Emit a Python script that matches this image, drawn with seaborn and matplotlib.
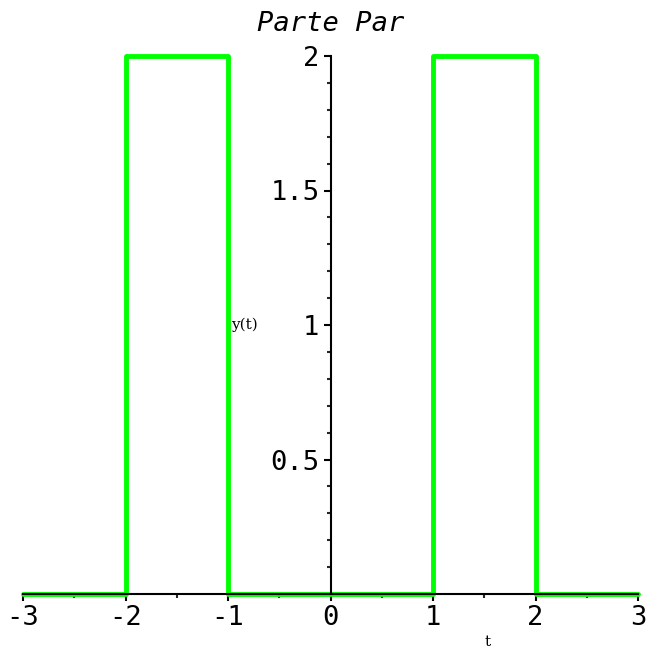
import numpy as np
import pandas as pd
import matplotlib
matplotlib.use("Agg")
import matplotlib.pyplot as plt
from matplotlib.ticker import MultipleLocator
import seaborn as sns

# step breakpoints of the even part
t_points = [-3, -2, -1, 1, 2, 3]
y_values = [0, 2, 0, 2, 0, 0]
x_ticks = [-3, -2, -1, 0, 1, 2, 3]
y_ticks = [0.5, 1, 1.5, 2]

sns.set_style("white")
plt.rcParams['font.family'] = ['DejaVu Sans Mono', 'DejaVu Sans']
plt.rcParams['axes.unicode_minus'] = False
plt.rcParams['text.color'] = 'black'

df = pd.DataFrame({'t': t_points, 'y': y_values})

fig = plt.figure(figsize=(6.47, 6.5), dpi=100)
ax = fig.add_axes([23 / 647, 56 / 650, 615 / 647, 538 / 650])

sns.lineplot(data=df, x='t', y='y', drawstyle='steps-post', color='#00ff00',
             linewidth=3.5, ax=ax, clip_on=False, zorder=2)

ax.set_xlim(-3, 3)
ax.set_ylim(0, 2)

# maple-like axes crossing at the origin
for s in ['top', 'right']:
    ax.spines[s].set_visible(False)
ax.spines['left'].set_position(('data', 0))
ax.spines['bottom'].set_position(('data', 0))
for s in ['left', 'bottom']:
    ax.spines[s].set_linewidth(1.5)
    ax.spines[s].set_color('black')
    ax.spines[s].set_zorder(3)

ax.set_xticks(x_ticks)
ax.set_yticks(y_ticks)
ax.set_yticklabels(['0.5', '1', '1.5', '2'])
ax.xaxis.set_minor_locator(MultipleLocator(0.5))
ax.yaxis.set_minor_locator(MultipleLocator(0.1))
ax.tick_params(which='major', direction='out', length=5, width=1.5,
               labelsize=19.5, colors='black', pad=3, bottom=True, left=True)
ax.tick_params(which='minor', direction='out', length=3, width=1.5,
               bottom=True, left=True)

ax.set_xlabel('')
ax.set_ylabel('')
ax.text(-0.97, 1.0, 'y(t)', family='DejaVu Serif', fontsize=11,
        ha='left', va='center', color='black')
ax.text(1.53, -0.18, 't', family='DejaVu Serif', fontsize=11,
        ha='center', va='center', color='black')

ax.set_title('Parte Par', fontsize=19.5, style='italic', pad=18, color='black')

fig.savefig('out.png', dpi=100)
